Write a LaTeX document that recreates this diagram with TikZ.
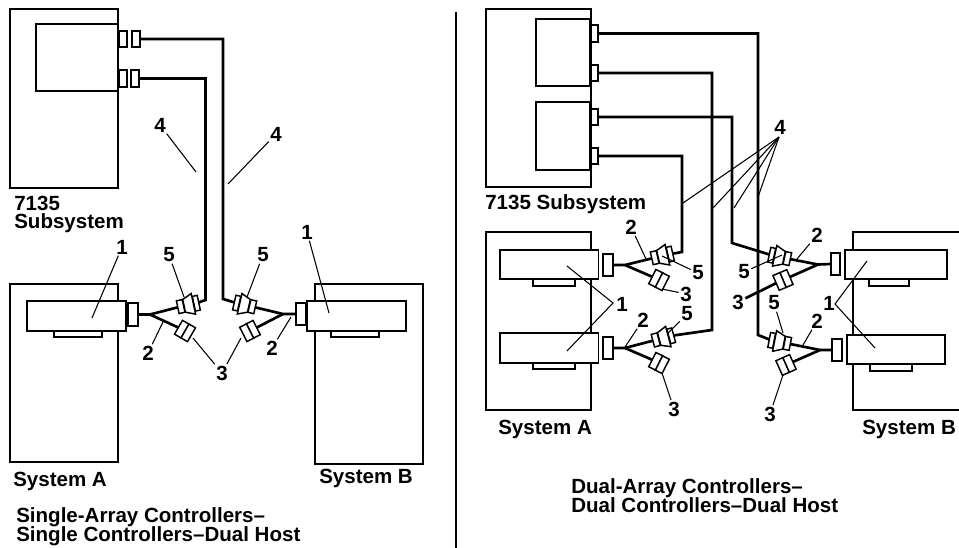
\documentclass[tikz,border=0pt]{standalone}
\usepackage{fontspec}
\setmainfont{Liberation Sans}
\usetikzlibrary{positioning, arrows.meta}
\newcommand{\capfont}{\fontsize{15.4}{13.9}\selectfont\bfseries\setlength{\lineskiplimit}{-8pt}}
\tikzset{
  framebox/.style 2 args={draw, line width=1.3pt, minimum width=#1*0.75pt, minimum height=#2*0.75pt,
    inner sep=0pt, outer sep=0pt, anchor=north west},
  portbox/.style 2 args={framebox={#1}{#2}, line width=1.2pt, fill=white},
  cable/.style={line width=2pt},
  leader/.style={line width=0.8pt},
  num/.style={font=\fontsize{15.4}{15.4}\selectfont\bfseries, inner sep=1pt},
  caption/.style={font=\capfont, align=left, anchor=base west, inner sep=0pt},
  plugbit/.style 2 args={draw, line width=1.1pt, fill=white, transform shape, inner sep=0pt, outer sep=0pt,
    minimum width=#1*0.75pt, minimum height=#2*0.75pt},
  pics/plugmate/.style={code={
    \node[plugbit={6}{13}] (-l) at (-7.5,0) {};
    \node[plugbit={5}{15}] (-r) at (8.5,0) {};
    \draw[line width=1.1pt, fill=white] (-4,-6.5) -- (5.5,-10.5) -- (5.5,10.5) -- (-4,6.5) -- cycle;
  }},
  pics/plugcap/.style={code={
    \node[plugbit={7.5}{16}] (-l) at (-3.75,0) {};
    \node[plugbit={7.5}{16}] (-r) at (3.75,0) {};
  }},
}

\begin{document}
\begin{tikzpicture}[x=0.75pt, y=-0.75pt]
  \useasboundingbox (0,0) rectangle (959,548);

  % left half
  \node[framebox={108}{179}] (subL) at (10,9) {};
  \node[framebox={82}{67}] (subLin) at (36,24) {};
  \node[portbox={8}{16}] (pl1) at (119,31) {};
  \node[portbox={8}{16}] (pl2) at (132,31) {};
  \node[portbox={8}{17}] (pl3) at (119,70) {};
  \node[portbox={8}{17}] (pl4) at (131,70) {};

  \node[framebox={108}{178}] (sysA) at (10,284) {};
  \node[framebox={99}{30}, fill=white] (drwA) at (27,301) {};
  \node[framebox={48}{6}] (tabA) at (54,331) {};
  \node[portbox={10}{23}] (prtA) at (128,303) {};

  \node[framebox={108}{180}] (sysB) at (315,284) {};
  \node[framebox={99}{30}, fill=white] (drwB) at (307,301) {};
  \node[framebox={48}{6}] (tabB) at (331,331) {};
  \node[portbox={10}{22}] (prtB) at (296,303) {};

  \pic[rotate=12] (ma) at (188,305) {plugmate};
  \pic[rotate=-30] (ca) at (185,331) {plugcap};
  \pic[rotate=167] (mb) at (245,305) {plugmate};
  \pic[rotate=207] (cb) at (250,331) {plugcap};

  \coordinate (jA) at (150,314.5);
  \coordinate (jB) at (283,314);
  \coordinate (bendA) at (205.5,300);
  \coordinate (bendB) at (223,299);

  \draw[cable] (pl4.east) -| (bendA) -- (ma-r);
  \draw[cable] (pl2.east) -| (bendB) -- (mb-r);
  \draw[cable] (prtA.east) -- (jA) -- (ma-l);
  \draw[cable] (jA) -- (ca-l);
  \draw[cable] (prtB.west) -- (jB) -- (mb-l);
  \draw[cable] (jB) -- (cb-l);

  \node[num] (oneA) at (122,247) {1};
  \node[num] (oneB) at (307,232) {1};
  \node[num] (fourA) at (160,125) {4};
  \node[num] (fourB) at (276,134) {4};
  \node[num] (fiveA) at (169,255) {5};
  \node[num] (fiveB) at (263,255) {5};
  \node[num] (twoA) at (148,353) {2};
  \node[num] (twoB) at (272,348) {2};
  \node[num] (three) at (222,373) {3};

  \coordinate (toA) at (92,318);
  \coordinate (toB) at (329,313);
  \coordinate (toC) at (196,172);
  \coordinate (toD) at (228,184);
  \coordinate (toE) at (184,297);
  \coordinate (toF) at (247,297);
  \coordinate (toG) at (163,322);
  \coordinate (toH) at (291,317);
  \coordinate (toI) at (193,338);
  \coordinate (toJ) at (241,338);

  \draw[leader] (oneA) -- (toA);
  \draw[leader] (oneB) -- (toB);
  \draw[leader] (fourA) -- (toC);
  \draw[leader] (fourB) -- (toD);
  \draw[leader] (fiveA) -- (toE);
  \draw[leader] (fiveB) -- (toF);
  \draw[leader] (twoA) -- (toG);
  \draw[leader] (twoB) -- (toH);
  \draw[leader] (three) -- (toI);
  \draw[leader] (three) -- (toJ);

  \node[caption] (capS) at (14,229) {7135\\Subsystem};
  \node[caption] (capA) at (13,486) {System A};
  \node[caption] (capB) at (319,483) {System B};
  \node[caption] (capL) at (16,541) {Single-Array Controllers--\\Single Controllers--Dual Host};

  % divider
  \coordinate (divT) at (456,12);
  \coordinate (divB) at (456,548);
  \draw[cable] (divT) -- (divB);

  % right half
  \node[framebox={105}{178}] (subR) at (486,9) {};
  \node[framebox={54}{67}] (inR1) at (536,19) {};
  \node[framebox={54}{68}] (inR2) at (536,102) {};
  \node[portbox={7}{17}] (pr1) at (591,25) {};
  \node[portbox={7}{16}] (pr2) at (591,65) {};
  \node[portbox={7}{16}] (pr3) at (591,109) {};
  \node[portbox={7}{16}] (pr4) at (591,148) {};

  \node[framebox={105}{178}] (sysC) at (486,232) {};
  \node[framebox={98.5}{29}, fill=white] (drC1) at (500,250) {};
  \node[framebox={98.5}{30}, fill=white] (drC2) at (500,333) {};
  \node[framebox={42}{7}] (tbC1) at (533,279) {};
  \node[framebox={42}{6}] (tbC2) at (533,363) {};
  \node[portbox={10}{22}] (ptC1) at (603,254) {};
  \node[portbox={10}{22}] (ptC2) at (603,337) {};

  \node[framebox={107}{178}] (sysD) at (853,232) {};
  \node[framebox={102}{29}, fill=white] (drD1) at (845,250) {};
  \node[framebox={98}{29}, fill=white] (drD2) at (847,335) {};
  \node[framebox={40}{7}] (tbD1) at (869,279) {};
  \node[framebox={42}{7}] (tbD2) at (870,364) {};
  \node[portbox={9}{22}] (ptD1) at (831,253) {};
  \node[portbox={10}{22}] (ptD2) at (832,339) {};

  \pic[rotate=13] (mc) at (662,256) {plugmate};
  \pic[rotate=-27] (cc) at (659,280) {plugcap};
  \pic[rotate=15] (md) at (663,338) {plugmate};
  \pic[rotate=-27] (cd) at (659,363) {plugcap};
  \pic[rotate=168] (me) at (780,257) {plugmate};
  \pic[rotate=203] (ce) at (783,280) {plugcap};
  \pic[rotate=169] (mf) at (780,342) {plugmate};
  \pic[rotate=204] (cf) at (786,365) {plugcap};

  \coordinate (jC) at (625,265);
  \coordinate (jD) at (625,348);
  \coordinate (jE) at (818,264.5);
  \coordinate (jF) at (820,350);
  \coordinate (bendC) at (682,252);
  \coordinate (bendD) at (712,330);
  \coordinate (bendE) at (732,243);
  \coordinate (bendF) at (758,335);

  \draw[cable] (pr4.east) -| (bendC) -- (mc-r);
  \draw[cable] (pr2.east) -| (bendD) -- (md-r);
  \draw[cable] (pr3.east) -| (bendE) -- (me-r);
  \draw[cable] (pr1.east) -| (bendF) -- (mf-r);
  \draw[cable] (ptC1.east) -- (jC) -- (mc-l);
  \draw[cable] (jC) -- (cc-l);
  \draw[cable] (ptC2.east) -- (jD) -- (md-l);
  \draw[cable] (jD) -- (cd-l);
  \draw[cable] (ptD1.west) -- (jE) -- (me-l);
  \draw[cable] (jE) -- (ce-l);
  \draw[cable] (ptD2.west) -- (jF) -- (mf-l);
  \draw[cable] (jF) -- (cf-l);

  \node[num] (fourC) at (780,127) {4};
  \node[num] (twoC) at (631,227) {2};
  \node[num] (fiveC) at (698,273) {5};
  \node[num] (threeC) at (686,294) {3};
  \node[num] (oneC) at (622,304) {1};
  \node[num] (twoD) at (643,320) {2};
  \node[num] (fiveD) at (687,314) {5};
  \node[num] (threeD) at (674,409) {3};
  \node[num] (twoE) at (817,235) {2};
  \node[num] (fiveE) at (744,272) {5};
  \node[num] (threeE) at (738,302) {3};
  \node[num] (fiveF) at (774,303) {5};
  \node[num] (twoF) at (817,321) {2};
  \node[num] (oneD) at (829,303) {1};
  \node[num] (threeF) at (770,414) {3};

  \coordinate (apxF) at (779,137);
  \coordinate (toK) at (683,203);
  \coordinate (toL) at (713,208);
  \coordinate (toM) at (734,208);
  \coordinate (toN) at (758,197);
  \draw[leader] (apxF) -- (toK);
  \draw[leader] (apxF) -- (toL);
  \draw[leader] (apxF) -- (toM);
  \draw[leader] (apxF) -- (toN);

  \coordinate (apxC) at (613,303);
  \coordinate (toO) at (567,266);
  \coordinate (toP) at (567,351);
  \draw[leader] (toO) -- (apxC) -- (toP);

  \coordinate (apxD) at (835,304);
  \coordinate (toQ) at (867,261);
  \coordinate (toR) at (875,348);
  \draw[leader] (toQ) -- (apxD) -- (toR);

  \coordinate (toS) at (646,259);
  \coordinate (toT) at (662,256);
  \coordinate (toU) at (662,289);
  \coordinate (toV) at (625,347);
  \coordinate (toW) at (668,333);
  \coordinate (toX) at (662,373);
  \coordinate (toY) at (797,259);
  \coordinate (toZ) at (782,255);
  \coordinate (toAa) at (783,333);
  \coordinate (toAb) at (803,345);
  \coordinate (toAc) at (783,375);

  \draw[leader] (twoC) -- (toS);
  \draw[leader] (fiveC) -- (toT);
  \draw[leader] (threeC) -- (toU);
  \draw[leader] (twoD) -- (toV);
  \draw[leader] (fiveD) -- (toW);
  \draw[leader] (threeD) -- (toX);
  \draw[leader] (twoE) -- (toY);
  \draw[leader] (fiveE) -- (toZ);
  \draw[cable] (threeE) -- (ce-r);
  \draw[leader] (fiveF) -- (toAa);
  \draw[leader] (twoF) -- (toAb);
  \draw[leader] (threeF) -- (toAc);

  \node[caption] (capT) at (485,210) {7135 Subsystem};
  \node[caption] (capC) at (498,434) {System A};
  \node[caption] (capD) at (862,434) {System B};
  \node[caption] (capR) at (571,512) {Dual-Array Controllers--\\Dual Controllers--Dual Host};
\end{tikzpicture}
\end{document}
